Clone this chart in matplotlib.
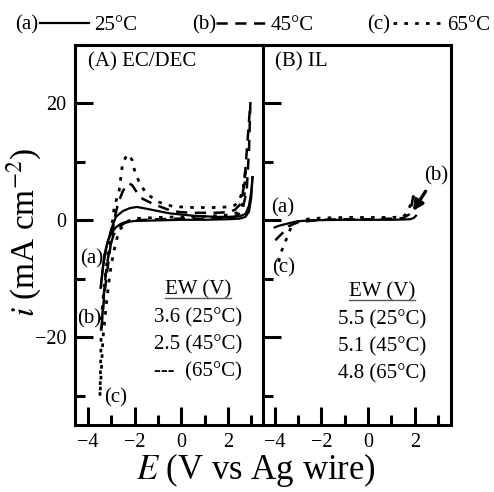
import matplotlib
matplotlib.use("Agg")
import matplotlib.pyplot as plt
from matplotlib.lines import Line2D
from matplotlib.ticker import MultipleLocator

plt.rcParams["font.family"] = ["Liberation Serif", "DejaVu Serif"]
plt.rcParams["mathtext.fontset"] = "stix"

# (A) EC/DEC, one loop per temperature: anodic branch then return branch
ec25_up_E = [-3.45, -3.35, -3.2, -3.0, -2.8, -2.5, -2.2, -1.9, -1.5, -1.0, -0.5, 0.0, 0.5, 1.0, 1.5, 2.0, 2.5, 2.75, 2.9, 3.0, 3.05]
ec25_up_i = [-11.5, -8.0, -4.5, -1.5, 0.6, 1.6, 2.1, 2.3, 2.0, 1.6, 1.2, 1.0, 0.8, 0.7, 0.6, 0.6, 0.7, 1.1, 2.5, 5.0, 7.4]
ec25_dn_E = [3.05, 3.0, 2.9, 2.75, 2.5, 2.0, 1.0, 0.0, -1.0, -2.0, -2.4, -2.6, -2.8, -3.0, -3.15, -3.3, -3.45]
ec25_dn_i = [7.4, 4.0, 1.5, 0.6, 0.3, 0.2, 0.1, 0.1, 0.0, -0.1, -0.3, -0.6, -1.2, -2.2, -3.6, -6.0, -11.5]

ec45_up_E = [-3.42, -3.3, -3.15, -3.0, -2.85, -2.7, -2.5, -2.35, -2.22, -2.1, -1.9, -1.66, -1.3, -0.94, -0.4, 0.0, 0.5, 1.0, 1.5, 2.0, 2.3, 2.56, 2.7, 2.84, 2.96]
ec45_up_i = [-18.5, -13.0, -8.0, -3.5, 0.5, 3.0, 5.0, 6.0, 6.3, 6.0, 4.8, 3.7, 3.0, 2.4, 1.6, 1.4, 1.3, 1.3, 1.3, 1.4, 1.8, 2.9, 6.3, 13.7, 20.2]
ec45_dn_E = [2.96, 2.9, 2.8, 2.6, 2.3, 2.0, 1.0, 0.0, -1.0, -2.0, -2.4, -2.7, -2.9, -3.05, -3.2, -3.3, -3.42]
ec45_dn_i = [20.2, 12.0, 5.0, 1.5, 0.6, 0.4, 0.3, 0.3, 0.2, 0.0, -0.4, -1.2, -2.5, -4.5, -8.0, -12.0, -18.5]

ec65_up_E = [-3.48, -3.45, -3.42, -3.3, -3.15, -3.0, -2.87, -2.66, -2.51, -2.35, -2.26, -2.1, -2.01, -1.83, -1.51, -0.94, -0.37, 0.0, 0.5, 1.0, 1.5, 2.0, 2.3, 2.5, 2.65, 2.75]
ec65_up_i = [-30.0, -24.0, -17.0, -11.0, -6.0, -2.0, 2.3, 5.1, 9.8, 11.0, 11.3, 10.3, 8.7, 6.8, 4.6, 3.1, 2.4, 2.3, 2.2, 2.2, 2.2, 2.3, 2.6, 3.5, 5.5, 8.5]
ec65_dn_E = [2.75, 2.7, 2.6, 2.4, 2.0, 1.0, 0.0, -1.0, -2.0, -2.4, -2.6, -2.75, -2.9, -3.05, -3.2, -3.35, -3.48]
ec65_dn_i = [8.5, 4.5, 2.2, 1.3, 0.9, 0.7, 0.6, 0.5, 0.3, -0.3, -1.5, -3.0, -5.5, -9.0, -14.0, -20.0, -30.0]

# (B) IL
il25_E = [-4.0, -3.8, -3.5, -3.2, -3.0, -2.5, -2.0, -1.0, 0.0, 1.0, 1.5, 1.8, 1.95, 2.05]
il25_i = [-1.2, -0.9, -0.6, -0.3, -0.15, 0.0, 0.05, 0.1, 0.1, 0.1, 0.15, 0.2, 0.4, 0.8]
il45_E = [-3.97, -3.8, -3.62, -3.4, -3.0, -2.0, -1.0, 0.0, 1.0, 1.5, 1.75, 1.85, 1.95]
il45_i = [-3.4, -2.7, -2.0, -1.0, -0.3, 0.1, 0.2, 0.2, 0.3, 0.4, 1.0, 2.3, 4.6]
il65_E = [-3.83, -3.69, -3.47, -3.3, -3.0, -2.5, -2.0, -1.0, 0.0, 1.0, 1.5, 1.65, 1.75, 1.84, 1.97]
il65_i = [-7.1, -5.1, -2.9, -1.2, -0.2, 0.3, 0.4, 0.5, 0.5, 0.5, 0.6, 1.2, 2.0, 2.9, 4.2]

temps = ["25°C", "45°C", "65°C"]
tags = ["(a)", "(b)", "(c)"]
ew_ec = ["3.6 (25°C)", "2.5 (45°C)", "---  (65°C)"]
ew_il = ["5.5 (25°C)", "5.1 (45°C)", "4.8 (65°C)"]

styles = [dict(ls="-", lw=1.6),
          dict(ls=(0, (4.5, 3.0)), lw=1.8),
          dict(ls=(0, (1.3, 2.6)), lw=2.0)]

fig = plt.figure(figsize=(4.94, 4.92), dpi=100)
axA = fig.add_axes([75 / 494, 1 - 425 / 492, 188 / 494, 380 / 492])
axB = fig.add_axes([263 / 494, 1 - 425 / 492, 188 / 494, 380 / 492])

handles = []
for (uE, ui, dE, di), st in zip(
        [(ec25_up_E, ec25_up_i, ec25_dn_E, ec25_dn_i),
         (ec45_up_E, ec45_up_i, ec45_dn_E, ec45_dn_i),
         (ec65_up_E, ec65_up_i, ec65_dn_E, ec65_dn_i)], styles):
    h, = axA.plot(uE, ui, color="k", **st)
    axA.plot(dE, di, color="k", **st)
    handles.append(h)

for (E, i), st in zip([(il25_E, il25_i), (il45_E, il45_i), (il65_E, il65_i)], styles):
    axB.plot(E, i, color="k", **st)

for ax in (axA, axB):
    ax.set_ylim(-35, 30)
    ax.xaxis.set_major_locator(MultipleLocator(2))
    ax.xaxis.set_minor_locator(MultipleLocator(1))
    ax.yaxis.set_major_locator(MultipleLocator(20))
    ax.yaxis.set_minor_locator(MultipleLocator(10))
    ax.tick_params(which="both", direction="in", width=2.2, top=False, right=False,
                   labelsize=14.5, pad=6)
    ax.tick_params(which="major", length=13)
    ax.tick_params(which="minor", length=7.5)
    for sp in ax.spines.values():
        sp.set_linewidth(2.2)
axA.set_xlim(-4.55, 3.5)
axB.set_xlim(-4.5, 3.55)
axB.tick_params(labelleft=False)

axA.text(0.07, 0.955, "(A) EC/DEC", transform=axA.transAxes, fontsize=15, va="center")
axB.text(0.064, 0.955, "(B) IL", transform=axB.transAxes, fontsize=15, va="center")

ew_heads = []
ew_heads.append(axA.text(0.654, 0.355, "EW (V)", transform=axA.transAxes,
                         fontsize=15, ha="center", va="center"))
for k, s in enumerate(ew_ec):
    axA.text(0.654, 0.282 - 0.071 * k, s, transform=axA.transAxes, fontsize=15,
             ha="center", va="center")
ew_heads.append(axB.text(0.633, 0.35, "EW (V)", transform=axB.transAxes,
                         fontsize=15, ha="center", va="center"))
for k, s in enumerate(ew_il):
    axB.text(0.633, 0.276 - 0.071 * k, s, transform=axB.transAxes, fontsize=15,
             ha="center", va="center")

# curve tags
axA.text(-3.85, -6.5, "(a)", fontsize=15, ha="center", va="center")
axA.text(-3.94, -16.8, "(b)", fontsize=15, ha="center", va="center")
axA.text(-2.8, -30.3, "(c)", fontsize=15, ha="center", va="center")
axB.text(-3.67, 2.2, "(a)", fontsize=15, ha="center", va="center")
axB.text(-3.6, -8.2, "(c)", fontsize=15, ha="center", va="center")
axB.annotate("(b)", xy=(1.92, 1.6), xytext=(2.9, 7.7), fontsize=15, ha="center", va="center",
             arrowprops=dict(arrowstyle="-|>", color="k", lw=2.4, mutation_scale=15,
                             shrinkA=3, shrinkB=0))

fig.text(256 / 494, 1 - 470 / 492, r"$E$ (V vs Ag wire)", fontsize=25, ha="center", va="center")
fig.text(24 / 494, 1 - 232 / 492, r"$i$ (mA cm$^{-2}$)", fontsize=24, ha="center", va="center",
         rotation=90)

# header legend
fig.legend(handles, temps, loc="center", bbox_to_anchor=(265 / 494, 1 - 25 / 492), ncol=3,
           frameon=False, fontsize=15, handlelength=2.35, handletextpad=0.25,
           columnspacing=3.8, borderpad=0)
for x, t in zip([27, 204, 379], tags):
    fig.text(x / 494, 1 - 25 / 492, t, fontsize=15, ha="center", va="center")

# underline the EW headers
fig.canvas.draw()
inv = fig.transFigure.inverted()
for t in ew_heads:
    bb = t.get_window_extent()
    (x0, y0), (x1, _) = inv.transform([(bb.x0, bb.y0 + 1.5), (bb.x1, bb.y0)])
    fig.add_artist(Line2D([x0, x1], [y0, y0], color="0.35", lw=1.0))

fig.savefig("out.png", dpi=100)
